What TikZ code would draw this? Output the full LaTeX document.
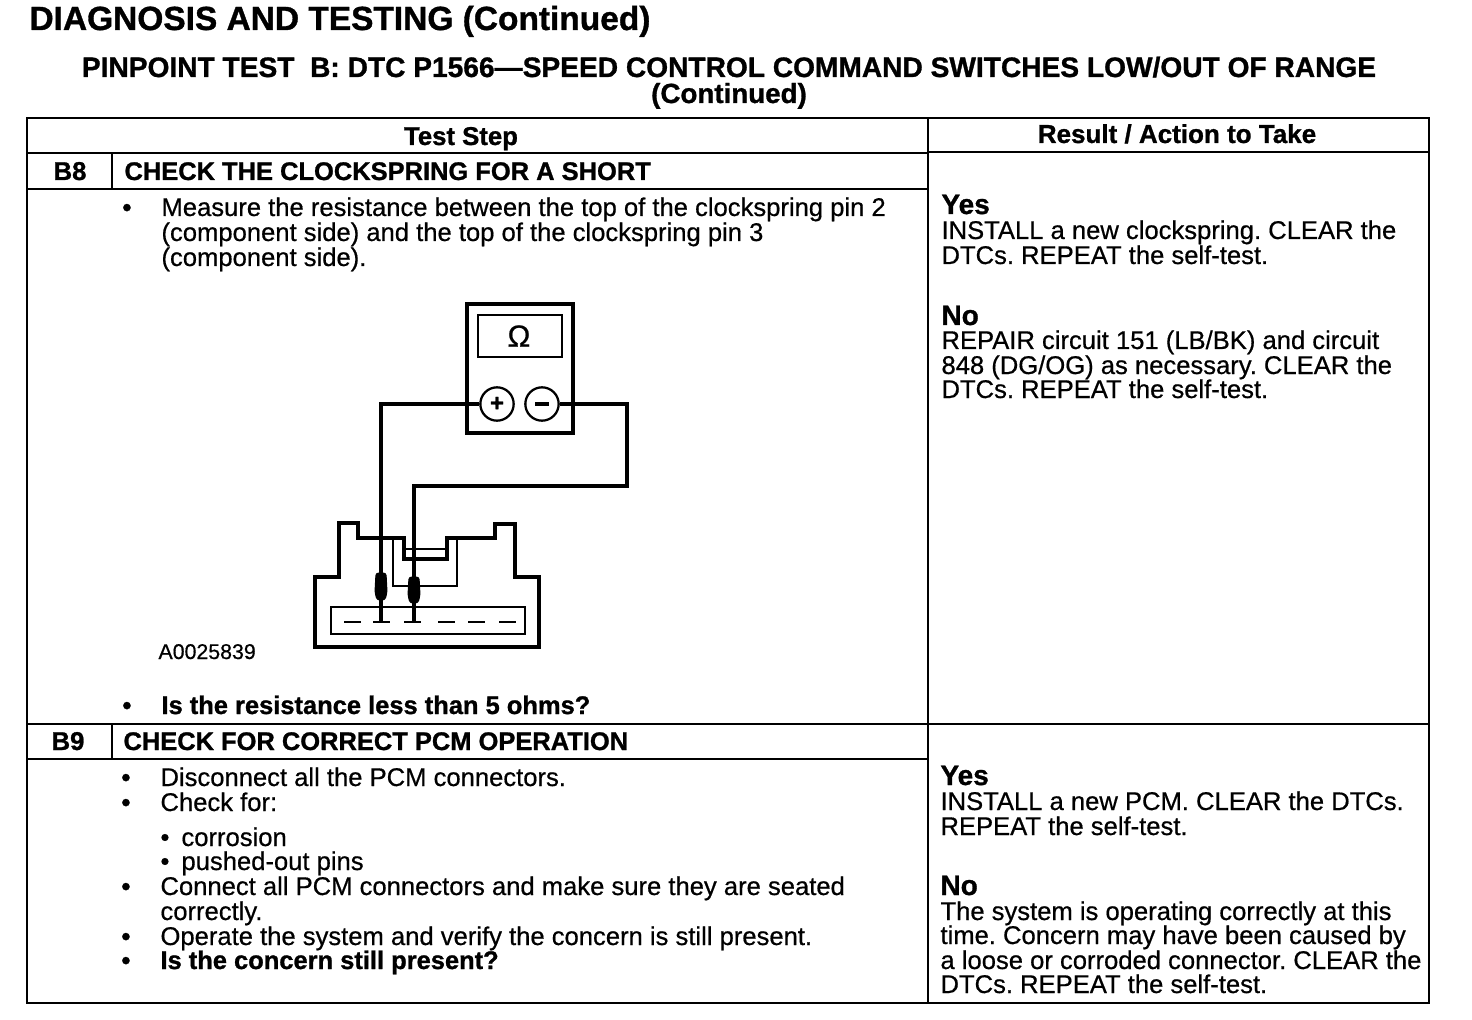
\documentclass[tikz,border=0pt]{standalone}
\usepackage{fontspec}
\setmainfont{Liberation Sans}
\newfontfamily\scanfont[FakeBold=0.6]{Liberation Sans}
\newfontfamily\scanbold[FakeBold=1.0]{Liberation Sans Bold}
\frenchspacing
\tikzset{every picture/.style={line width=0.75pt}}
\tikzset{
	rule/.style={line width=1.7pt},
	thickline/.style={line width=2.8pt},
	thinline/.style={line width=1.6pt},
	txt/.style={anchor=base west,inner sep=0pt,font=\fontsize{19.2}{19.2}\selectfont\scanfont},
	bld/.style={anchor=base west,inner sep=0pt,font=\fontsize{19.1}{19.1}\selectfont\scanbold},
	hdr/.style={anchor=base,inner sep=0pt,font=\fontsize{19.3}{19.3}\selectfont\scanbold},
	headtxt/.style={anchor=base,inner sep=0pt,font=\fontsize{20.8}{20.8}\selectfont\scanbold},
	answer/.style={anchor=base west,inner sep=0pt,font=\fontsize{21}{21}\selectfont\scanbold},
	term/.style={circle,draw,line width=1.7pt,minimum size=25pt,inner sep=0pt,font=\fontsize{18}{18}\selectfont\scanbold}
}
\begin{document}
\begin{tikzpicture}[x=0.75pt,y=0.75pt,yscale=-1,xscale=1]
	\useasboundingbox (0,0) rectangle (1472,1020);

	% Table
	\draw [rule] (27,118) -- (1429,118) -- (1429,1003) -- (27,1003) -- cycle ;
	\draw [rule] (928,118) -- (928,1003) ;
	\draw [rule] (27,153) -- (928,153) ;
	\draw [rule] (928,152) -- (1429,152) ;
	\draw [rule] (27,189) -- (928,189) ;
	\draw [rule] (27,724) -- (1429,724) ;
	\draw [rule] (27,759) -- (928,759) ;
	\draw [rule] (112,153) -- (112,189) ;
	\draw [rule] (112,724) -- (112,759) ;

	% Meter
	\draw [thickline] (467,304) rectangle (573,433) ;
	\draw [thinline] (478,315) rectangle (562,357) ;
	\node (ohm) at (519,336) {\fontsize{23}{23}\selectfont\scanfont Ω};
	\node [term] (plus) at (497,404) {+};
	\node [term] (minus) at (542,404) {\rule[-1.2pt]{10pt}{2.4pt}};

	% Connector
	\draw [thickline] (315,577) -- (339,577) -- (339,523) -- (358,523) -- (358,538) -- (404,538) -- (404,559) -- (447,559) -- (447,538) -- (495,538) -- (495,524) -- (515,524) -- (515,577) -- (539,577) -- (539,647) -- (315,647) -- cycle ;
	\draw [thinline] (404,549) -- (447,549) ;
	\draw [thinline] (393,538) -- (393,586) -- (457,586) -- (457,538) ;
	\draw [thickline,line width=2pt] (331,607) rectangle (525,634) ;
	\foreach \dashx in {344,373,404,438,468,499}
		\draw [thickline,line width=2pt] (\dashx,622) -- ++(17,0) ;

	% Wires and probes
	\coordinate (pinA) at (381,622);
	\coordinate (pinB) at (414,622);
	\draw [thickline] (plus) -| (pinA) ;
	\draw [thickline] (minus) -- (627,404) -- (627,486) -- (414,486) -- (pinB) ;
	\draw [fill=black,rounded corners=2pt] (376,573) -- (386,573) -- (387,592) -- (385,600) -- (377,600) -- (375,592) -- cycle ;
	\draw [fill=black,rounded corners=2pt] (409,577) -- (419,577) -- (420,595) -- (418,603) -- (410,603) -- (408,595) -- cycle ;

	% Text Node
	\node [anchor=base west,inner sep=0pt,font=\fontsize{25.1}{25.1}\selectfont\scanbold] (title) at (29,30) {DIAGNOSIS AND TESTING (Continued)};
	\node [headtxt,font=\fontsize{21.1}{21.1}\selectfont\scanbold] (head) at (729,77) {PINPOINT TEST\ \ B: DTC P1566—SPEED CONTROL COMMAND SWITCHES LOW/OUT OF RANGE};
	\node [headtxt] (headb) at (729,103) {(Continued)};
	\node [hdr] (step) at (461,145) {Test Step};
	\node [hdr,font=\fontsize{19.5}{19.5}\selectfont\scanbold] (result) at (1177,143) {Result / Action to Take};
	% B8
	\node [hdr] (beight) at (70,180) {B8};
	\node [bld] (beighthead) at (124,180) {CHECK THE CLOCKSPRING FOR A SHORT};
	\node [bld] (dota) at (122,216) {\textbullet};
	\node [txt] (la) at (161,216) {Measure the resistance between the top of the clockspring pin 2};
	\node [txt] (lb) at (161,241) {(component side) and the top of the clockspring pin 3};
	\node [txt] (lc) at (161,266) {(component side).};
	\node [anchor=base west,inner sep=0pt,font=\fontsize{16}{16}\selectfont\scanfont] (figid) at (158,659) {A0025839};
	\node [bld] (dotb) at (122,714) {\textbullet};
	\node [bld] (ld) at (161,714) {Is the resistance less than 5 ohms?};
	% B8 result
	\node [answer] (yesa) at (941,214) {Yes};
	\node [txt] (ra) at (941,239) {INSTALL a new clockspring. CLEAR the};
	\node [txt] (rb) at (941,264) {DTCs. REPEAT the self-test.};
	\node [answer] (noa) at (941,325) {No};
	\node [txt] (rc) at (941,349) {REPAIR circuit 151 (LB/BK) and circuit};
	\node [txt] (rd) at (941,374) {848 (DG/OG) as necessary. CLEAR the};
	\node [txt] (re) at (941,398) {DTCs. REPEAT the self-test.};
	% B9
	\node [hdr] (bnine) at (68,750) {B9};
	\node [bld] (bninehead) at (123,750) {CHECK FOR CORRECT PCM OPERATION};
	\node [bld] (dotc) at (121,786) {\textbullet};
	\node [txt] (le) at (160,786) {Disconnect all the PCM connectors.};
	\node [bld] (dotd) at (121,811) {\textbullet};
	\node [txt] (lf) at (160,811) {Check for:};
	\node [txt] (lg) at (160,846) {\textbullet\hspace{0.47em}corrosion};
	\node [txt] (lh) at (160,870) {\textbullet\hspace{0.47em}pushed-out pins};
	\node [bld] (dote) at (121,895) {\textbullet};
	\node [txt] (li) at (160,895) {Connect all PCM connectors and make sure they are seated};
	\node [txt] (lj) at (160,920) {correctly.};
	\node [bld] (dotf) at (121,945) {\textbullet};
	\node [txt] (lk) at (160,945) {Operate the system and verify the concern is still present.};
	\node [bld] (dotg) at (121,969) {\textbullet};
	\node [bld] (ll) at (160,969) {Is the concern still present?};
	% B9 result
	\node [answer] (yesb) at (940,785) {Yes};
	\node [txt] (rf) at (940,810) {INSTALL a new PCM. CLEAR the DTCs.};
	\node [txt] (rg) at (940,835) {REPEAT the self-test.};
	\node [answer] (nob) at (940,895) {No};
	\node [txt] (rh) at (940,920) {The system is operating correctly at this};
	\node [txt] (ri) at (940,944) {time. Concern may have been caused by};
	\node [txt] (rj) at (940,969) {a loose or corroded connector. CLEAR the};
	\node [txt] (rk) at (940,993) {DTCs. REPEAT the self-test.};

\end{tikzpicture}
\end{document}
